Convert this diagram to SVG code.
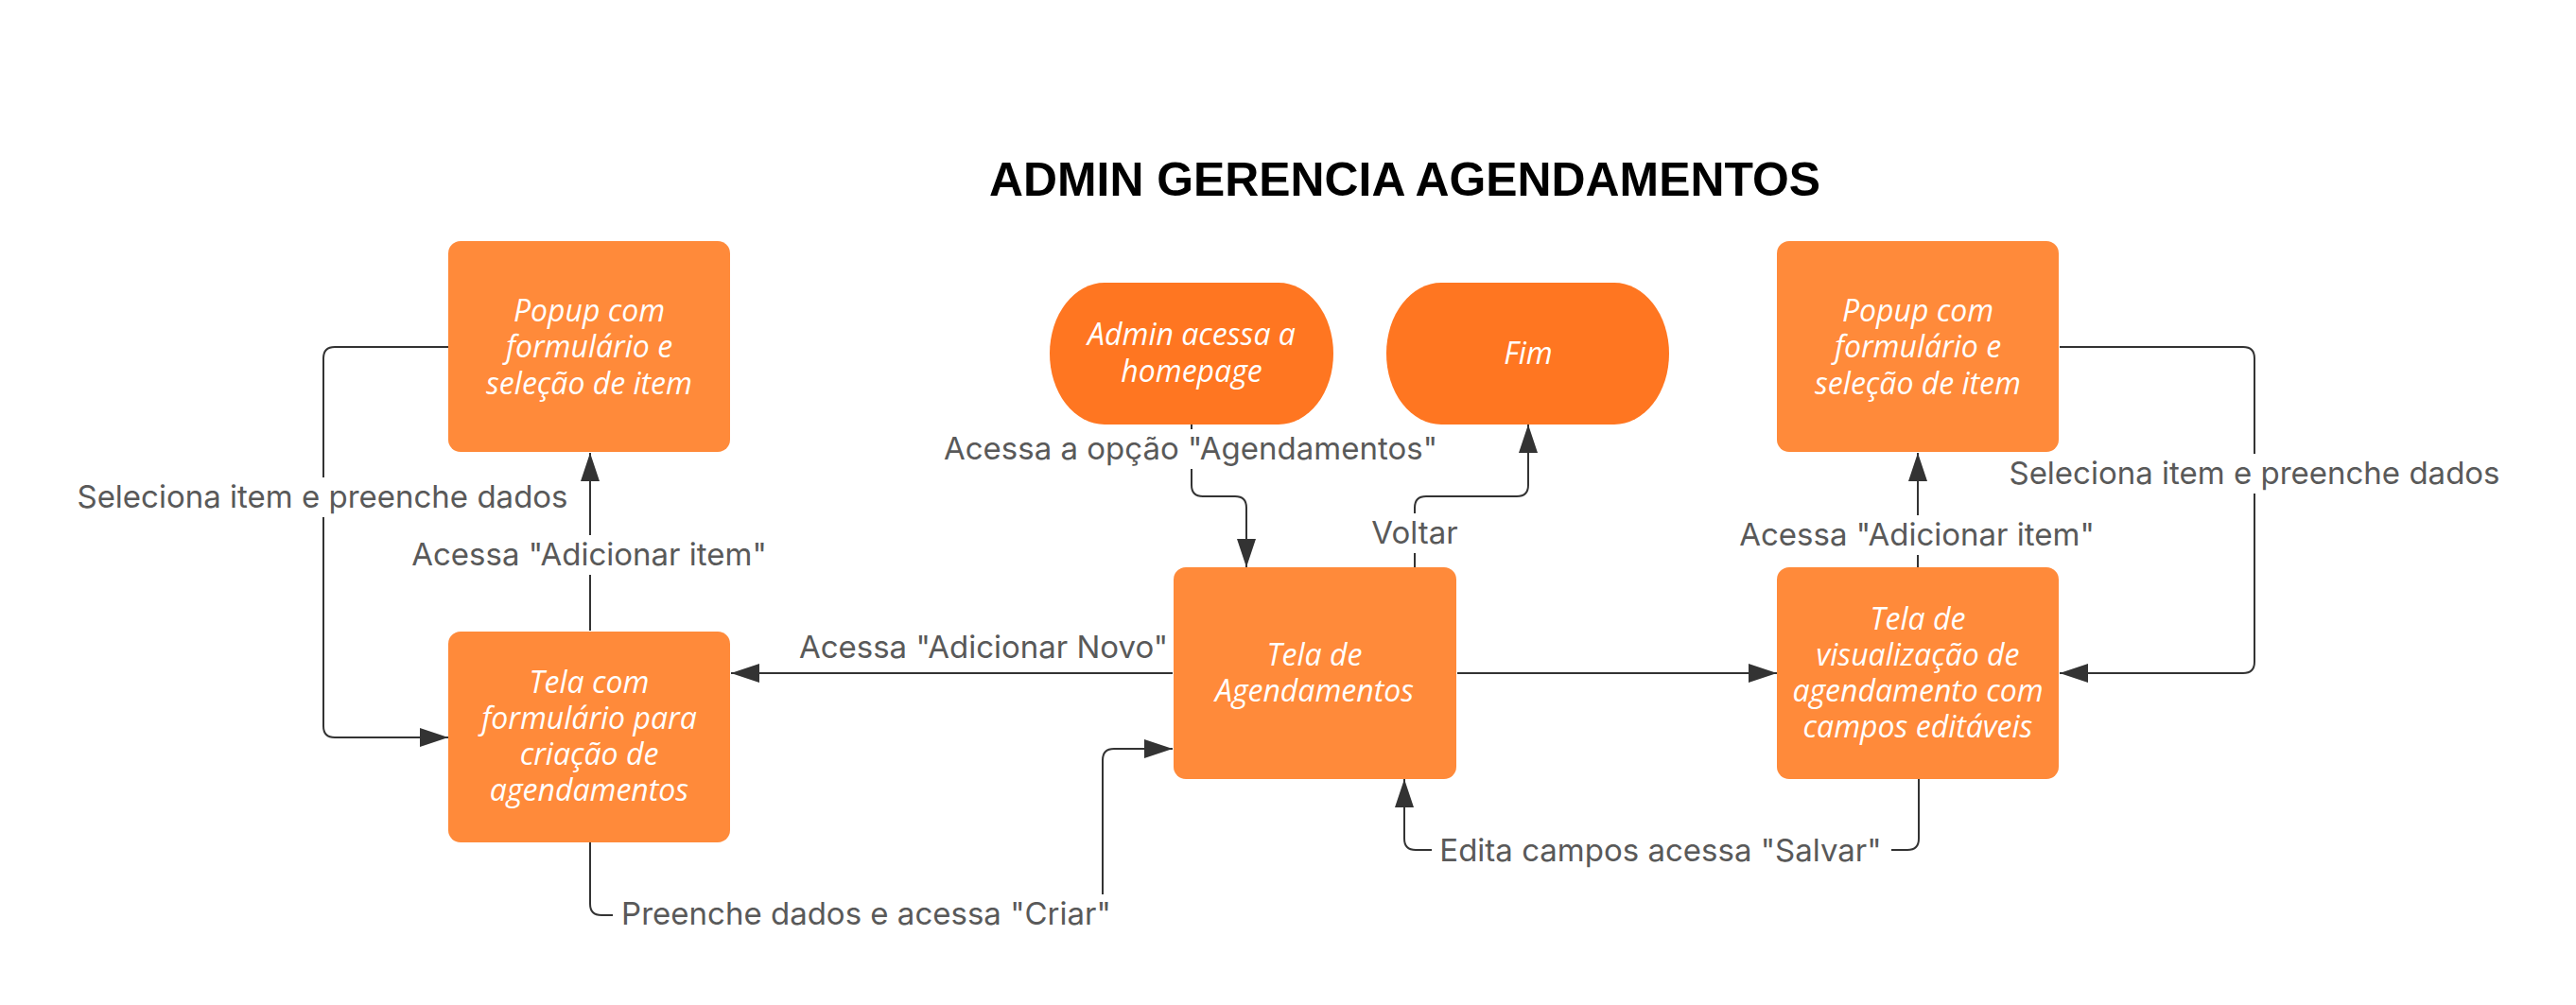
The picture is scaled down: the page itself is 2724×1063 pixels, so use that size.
<svg xmlns="http://www.w3.org/2000/svg" width="2724" height="1063" viewBox="0 0 2724 1063">
<style>
.box{fill:#FF8A3A}
.term{fill:#FF7621}
.nt{font-family:"Open Sans","Noto Sans",sans-serif;font-style:italic;font-size:32px;fill:#FFFFFF;text-anchor:middle}
.lbl{font-family:Inter,"Liberation Sans",sans-serif;font-size:33px;fill:#595959;text-anchor:middle}
.ln{fill:none;stroke:#333333;stroke-width:2}
.bg{fill:#FFFFFF}
.title{font-family:"Liberation Sans",Arial,sans-serif;font-weight:700;font-size:50px;fill:#000000;text-anchor:middle}
</style>
<defs>
<marker id="arr" markerUnits="userSpaceOnUse" markerWidth="30" markerHeight="20" refX="30" refY="10" orient="auto" viewBox="0 0 30 20">
<path d="M0,0 L30,10 L0,20 Z" fill="#333333"/>
</marker>
</defs>
<rect width="2724" height="1063" fill="#FFFFFF"/>
<text class="title" x="1485.5" y="207" textLength="879" lengthAdjust="spacingAndGlyphs">ADMIN GERENCIA AGENDAMENTOS</text>

<g id="connectors">
<path class="ln" d="M474,367 H354 Q342,367 342,379 V768 Q342,780 354,780 H474" marker-end="url(#arr)"/>
<path class="ln" d="M624,667 V479" marker-end="url(#arr)"/>
<path class="ln" d="M624,891 V956 Q624,968 636,968 H1154 Q1166,968 1166,956 V804 Q1166,792 1178,792 H1240" marker-end="url(#arr)"/>
<path class="ln" d="M1260,449 V513 Q1260,525 1272,525 H1306 Q1318,525 1318,537 V600" marker-end="url(#arr)"/>
<path class="ln" d="M1496,600 V537 Q1496,525 1508,525 H1604 Q1616,525 1616,513 V449" marker-end="url(#arr)"/>
<path class="ln" d="M1240,712 H773" marker-end="url(#arr)"/>
<path class="ln" d="M1541,712 H1879" marker-end="url(#arr)"/>
<path class="ln" d="M2029,824 V887 Q2029,899 2017,899 H1497 Q1485,899 1485,887 V824" marker-end="url(#arr)"/>
<path class="ln" d="M2028,600 V479" marker-end="url(#arr)"/>
<path class="ln" d="M2178,367 H2372 Q2384,367 2384,379 V700 Q2384,712 2372,712 H2178" marker-end="url(#arr)"/>

<rect class="bg" x="72" y="505" width="540" height="42"/>
<text class="lbl" x="341" y="537">Seleciona item e preenche dados</text>
<rect class="bg" x="428" y="566" width="390" height="42"/>
<text class="lbl" x="623" y="598">Acessa "Adicionar item"</text>
<text class="lbl" x="1040" y="696">Acessa "Adicionar Novo"</text>
<rect class="bg" x="648" y="946" width="536" height="42"/>
<text class="lbl" x="916" y="978">Preenche dados e acessa "Criar"</text>
<rect class="bg" x="989" y="454" width="540" height="42"/>
<text class="lbl" x="1259" y="486">Acessa a opção "Agendamentos"</text>
<rect class="bg" x="1447" y="543" width="98" height="42"/>
<text class="lbl" x="1496" y="575">Voltar</text>
<rect class="bg" x="1514" y="879" width="486" height="42"/>
<text class="lbl" x="1756" y="911">Edita campos acessa "Salvar"</text>
<rect class="bg" x="1832" y="545" width="390" height="42"/>
<text class="lbl" x="2027" y="577">Acessa "Adicionar item"</text>
<rect class="bg" x="2115" y="480" width="538" height="42"/>
<text class="lbl" x="2384" y="512">Seleciona item e preenche dados</text>
</g>

<g id="popup-left">
<rect class="box" x="474" y="255" width="298" height="223" rx="13"/>
<text class="nt" x="623" y="340">Popup com</text>
<text class="nt" x="623" y="378">formulário e</text>
<text class="nt" x="623" y="417">seleção de item</text>
</g>
<g id="form-criacao">
<rect class="box" x="474" y="668" width="298" height="223" rx="13"/>
<text class="nt" x="623" y="733">Tela com</text>
<text class="nt" x="623" y="771">formulário para</text>
<text class="nt" x="623" y="809">criação de</text>
<text class="nt" x="623" y="847">agendamentos</text>
</g>
<g id="admin-start">
<rect class="term" x="1110" y="299" width="300" height="150" rx="58" ry="75"/>
<text class="nt" x="1260" y="365">Admin acessa a</text>
<text class="nt" x="1260" y="404">homepage</text>
</g>
<g id="fim">
<rect class="term" x="1466" y="299" width="299" height="150" rx="58" ry="75"/>
<text class="nt" x="1616" y="385">Fim</text>
</g>
<g id="tela-agendamentos">
<rect class="box" x="1241" y="600" width="299" height="224" rx="13"/>
<text class="nt" x="1390" y="704">Tela de</text>
<text class="nt" x="1390" y="742">Agendamentos</text>
</g>
<g id="popup-right">
<rect class="box" x="1879" y="255" width="298" height="223" rx="13"/>
<text class="nt" x="2028" y="340">Popup com</text>
<text class="nt" x="2028" y="378">formulário e</text>
<text class="nt" x="2028" y="417">seleção de item</text>
</g>
<g id="tela-visualizacao">
<rect class="box" x="1879" y="600" width="298" height="224" rx="13"/>
<text class="nt" x="2028" y="666">Tela de</text>
<text class="nt" x="2028" y="704">visualização de</text>
<text class="nt" x="2028" y="742">agendamento com</text>
<text class="nt" x="2028" y="780">campos editáveis</text>
</g>
</svg>
